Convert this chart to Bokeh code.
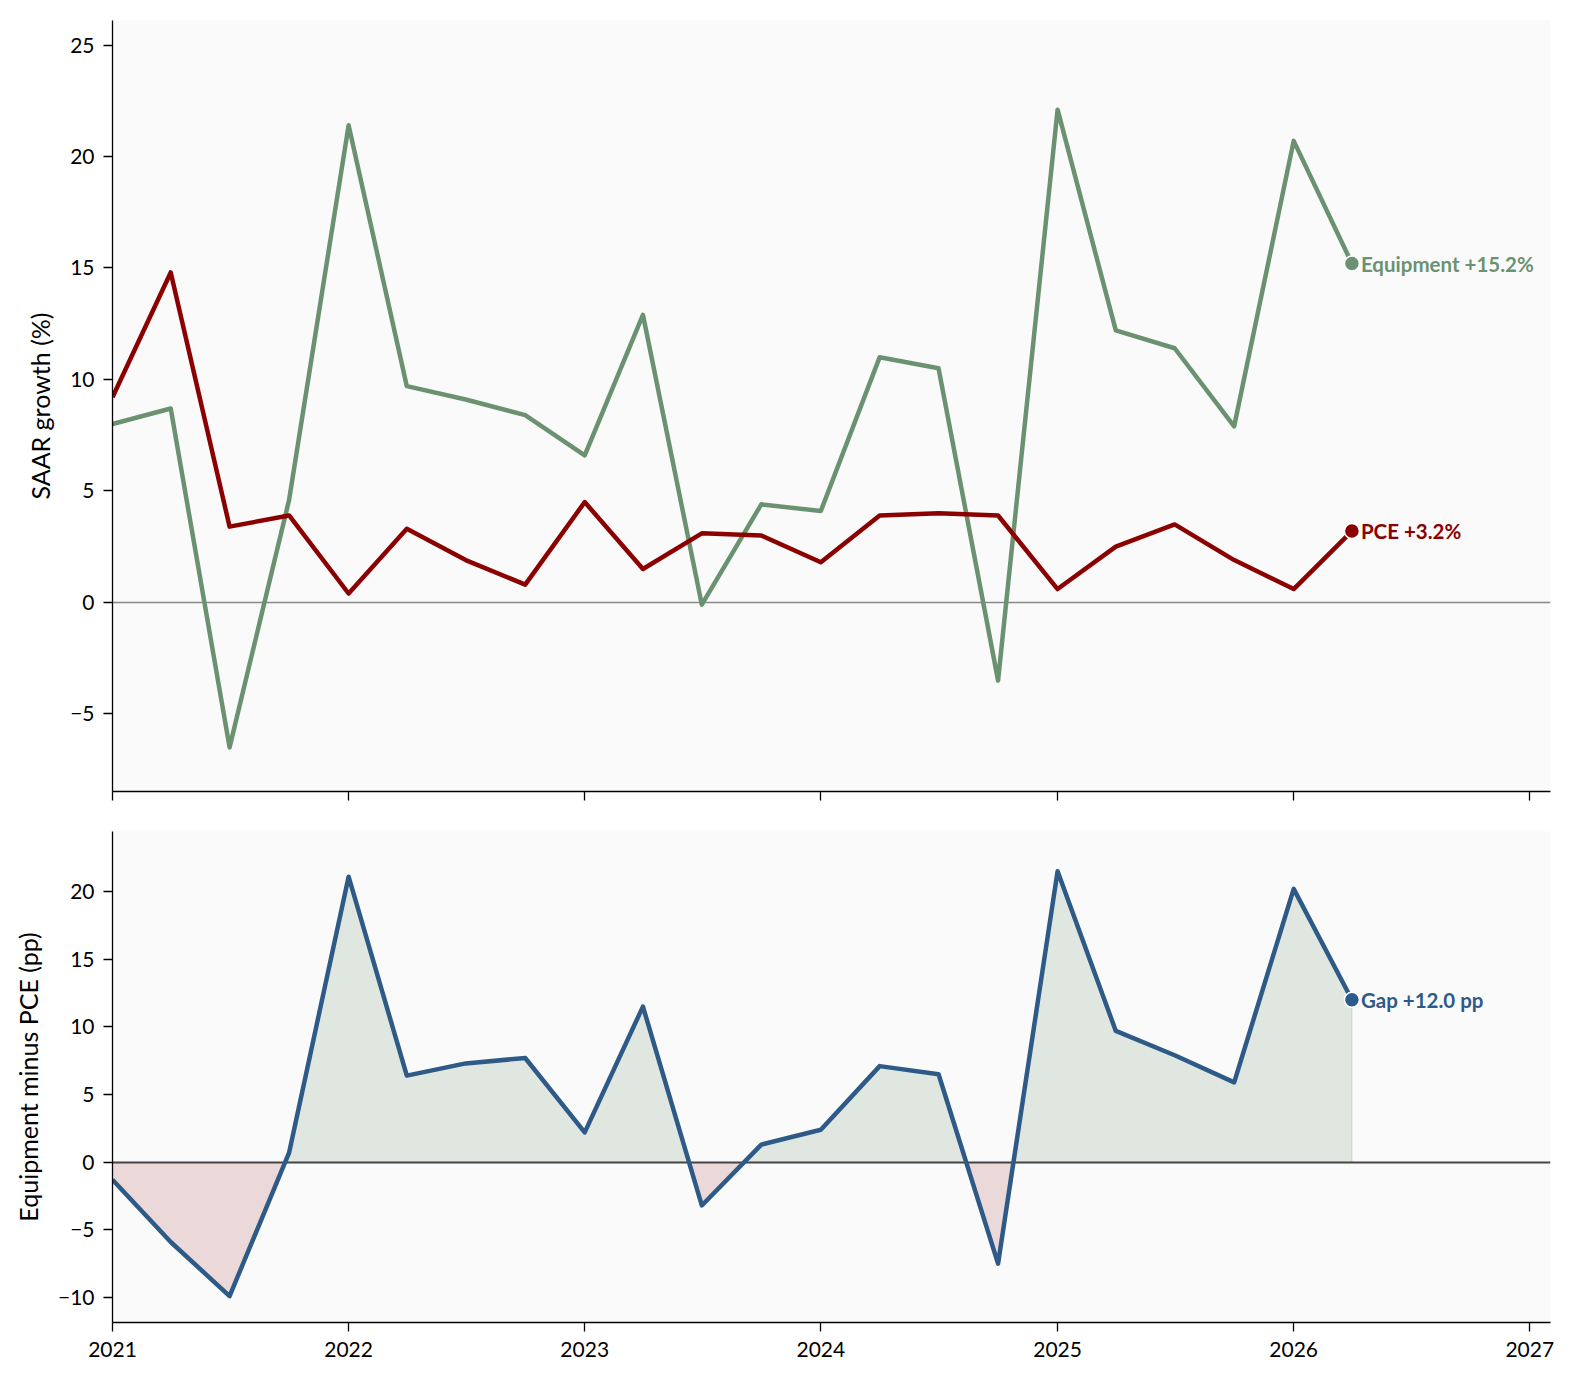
import numpy as np
import pandas as pd
from bokeh.plotting import figure
from bokeh.layouts import column
from bokeh.models import Range1d, FixedTicker, DatetimeTickFormatter, CustomJSTickFormatter
from bokeh.core.properties import value
from bokeh.embed import file_html
from bokeh.resources import INLINE

# ---------------- data ----------------
quarters = ["2021-01-01", "2021-04-01", "2021-07-01", "2021-10-01",
            "2022-01-01", "2022-04-01", "2022-07-01", "2022-10-01",
            "2023-01-01", "2023-04-01", "2023-07-01", "2023-10-01",
            "2024-01-01", "2024-04-01", "2024-07-01", "2024-10-01",
            "2025-01-01", "2025-04-01", "2025-07-01", "2025-10-01",
            "2026-01-01", "2026-04-01"]
equipment = [8.0, 8.7, -6.5, 4.6, 21.4, 9.7, 9.1, 8.4, 6.6, 12.9, -0.1, 4.4,
             4.1, 11.0, 10.5, -3.5, 22.1, 12.2, 11.4, 7.9, 20.7, 15.2]
pce = [9.2, 14.8, 3.4, 3.9, 0.4, 3.3, 1.9, 0.8, 4.5, 1.5, 3.1, 3.0,
       1.8, 3.9, 4.0, 3.9, 0.6, 2.5, 3.5, 1.9, 0.6, 3.2]
gap = [-1.3, -5.9, -9.9, 0.7, 21.1, 6.4, 7.3, 7.7, 2.2, 11.5, -3.2, 1.3,
       2.4, 7.1, 6.5, -7.5, 21.5, 9.7, 7.9, 5.9, 20.2, 12.0]
year_ticks = ["2021", "2022", "2023", "2024", "2025", "2026", "2027"]
top_yticks = [-5, 0, 5, 10, 15, 20, 25]
bot_yticks = [-10, -5, 0, 5, 10, 15, 20]

# ---------------- styles ----------------
GREEN = "#6b9270"
RED = "#8b0000"
BLUE = "#2e5a87"
BG = "#fafafa"
FONT = "Lato"

x = pd.to_datetime(quarters)
xms = (x.astype("int64") // 10**6).astype(float).to_numpy()
tick_ms = [pd.Timestamp(f"{y}-01-01").value / 10**6 for y in year_ticks]
x_start = pd.Timestamp("2021-01-01").value / 10**6
x_end = pd.Timestamp("2027-02-02").value / 10**6
xr = Range1d(start=x_start, end=x_end)


def style(p, yticks):
    p.background_fill_color = BG
    p.border_fill_color = "white"
    p.outline_line_color = None
    p.xgrid.grid_line_color = None
    p.ygrid.grid_line_color = None
    for ax in (p.xaxis[0], p.yaxis[0]):
        ax.axis_line_color = "black"
        ax.axis_line_width = 1.3
        ax.major_tick_line_color = "black"
        ax.major_tick_line_width = 1.3
        ax.major_tick_out = 9
        ax.major_tick_in = 0
        ax.minor_tick_line_color = None
        ax.major_label_text_font = FONT
        ax.major_label_text_font_size = "21px"
        ax.major_label_text_color = "black"
        ax.axis_label_text_font = FONT
        ax.axis_label_text_font_size = "25px"
        ax.axis_label_text_font_style = "normal"
        ax.axis_label_text_color = "black"
    p.xaxis[0].ticker = FixedTicker(ticks=tick_ms)
    p.yaxis[0].ticker = FixedTicker(ticks=yticks)
    p.yaxis[0].major_label_standoff = 9
    p.yaxis[0].axis_label_standoff = 12
    p.yaxis[0].major_label_overrides = {t: str(t).replace("-", "\u2212") for t in yticks}


# ---------------- top panel ----------------
p1 = figure(x_axis_type="datetime", x_range=xr, y_range=Range1d(-8.48, 26.1),
            frame_width=1438, frame_height=771, min_border_left=112,
            min_border_right=10, min_border_top=20, min_border_bottom=40,
            output_backend="svg", toolbar_location=None)
style(p1, top_yticks)
p1.xaxis[0].formatter = CustomJSTickFormatter(code="return ''")
p1.yaxis[0].axis_label = "SAAR growth (%)"

p1.hspan(y=[0], line_color="#888888", line_width=1.5)
p1.line(xms, equipment, line_color=GREEN, line_width=4.5, line_join="round")
p1.line(xms, pce, line_color=RED, line_width=4.5, line_join="round")
p1.scatter([xms[-1]], [equipment[-1]], size=15, fill_color=GREEN, line_color="white", line_width=1.5)
p1.scatter([xms[-1]], [pce[-1]], size=15, fill_color=RED, line_color="white", line_width=1.5)
p1.text([xms[-1]], [equipment[-1]], text=[f"Equipment {equipment[-1]:+.1f}%"],
        x_offset=9, text_baseline="middle", text_align="left",
        text_font=value(FONT), text_font_style="bold", text_font_size="20.5px",
        text_color=GREEN)
p1.text([xms[-1]], [pce[-1]], text=[f"PCE {pce[-1]:+.1f}%"],
        x_offset=9, text_baseline="middle", text_align="left",
        text_font=value(FONT), text_font_style="bold", text_font_size="20.5px",
        text_color=RED)

# ---------------- bottom panel ----------------
p2 = figure(x_axis_type="datetime", x_range=xr, y_range=Range1d(-11.85, 24.44),
            frame_width=1438, frame_height=491, min_border_left=112,
            min_border_right=10, min_border_top=0, min_border_bottom=45,
            output_backend="svg", toolbar_location=None)
style(p2, bot_yticks)
p2.xaxis[0].formatter = DatetimeTickFormatter(years="%Y", months="%Y", days="%Y")
p2.xaxis[0].major_label_standoff = 10
p2.yaxis[0].axis_label = "Equipment minus PCE (pp)"

# insert zero crossings so the positive / negative fills meet the line exactly
gx, gy = [], []
g = np.asarray(gap, dtype=float)
for i in range(len(g)):
    gx.append(xms[i]); gy.append(g[i])
    if i < len(g) - 1 and g[i] * g[i + 1] < 0:
        t = g[i] / (g[i] - g[i + 1])
        gx.append(xms[i] + t * (xms[i + 1] - xms[i])); gy.append(0.0)
gx = np.array(gx); gy = np.array(gy)

p2.varea(x=gx, y1=np.zeros_like(gy), y2=np.maximum(gy, 0), fill_color=GREEN, fill_alpha=0.18)
p2.varea(x=gx, y1=np.zeros_like(gy), y2=np.minimum(gy, 0), fill_color=RED, fill_alpha=0.13)
p2.segment(x0=[xms[-1]], y0=[0], x1=[xms[-1]], y1=[gap[-1]], line_color=GREEN, line_alpha=0.18, line_width=1.5)
p2.hspan(y=[0], line_color="#444444", line_width=2)
p2.line(xms, gap, line_color=BLUE, line_width=4.5, line_join="round")
p2.scatter([xms[-1]], [gap[-1]], size=15, fill_color=BLUE, line_color="white", line_width=1.5)
p2.text([xms[-1]], [gap[-1]], text=[f"Gap {gap[-1]:+.1f} pp"],
        x_offset=9, text_baseline="middle", text_align="left",
        text_font=value(FONT), text_font_style="bold", text_font_size="20.5px",
        text_color=BLUE)

layout = column(p1, p2, spacing=0)
open("out.html", "w").write(file_html(layout, INLINE))
